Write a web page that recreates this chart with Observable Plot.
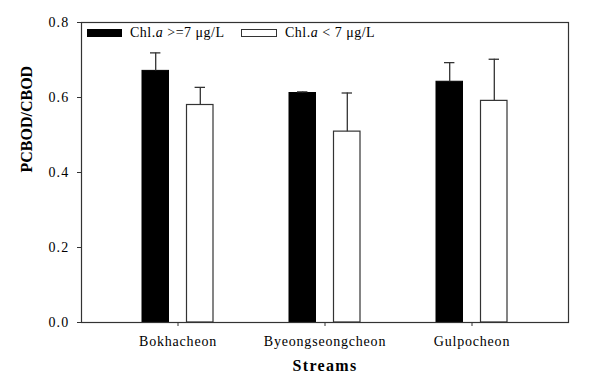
<!DOCTYPE html>
<html>
<head>
<meta charset="utf-8">
<script src="https://cdn.jsdelivr.net/npm/d3@7"></script>
<script src="https://cdn.jsdelivr.net/npm/@observablehq/plot@0.6"></script>
<style>
  html, body { margin: 0; padding: 0; background: #fff; }
  #wrap { position: relative; width: 599px; height: 384px; font-family: "Liberation Serif", "Times New Roman", serif; }
  #wrap svg { display: block; }
  g[aria-label="x-axis tick label"] text { letter-spacing: 0.8px; }
  g[aria-label="y-axis tick label"] text { letter-spacing: 1.2px; }
  .leg { position: absolute; font-size: 14px; line-height: 14px; color: #000; white-space: nowrap; letter-spacing: 0.5px; }
  .sw { position: absolute; box-sizing: border-box; height: 8px; }
</style>
</head>
<body>
<div id="wrap"></div>
<script>
const streams = ["Bokhacheon", "Byeongseongcheon", "Gulpocheon"];
const seriesNames = ["Chl.a >=7 \u03bcg/L", "Chl.a < 7 \u03bcg/L"];
const highMean = [0.671, 0.612, 0.642];
const highErr = [0.048, 0.003, 0.051];
const lowMean = [0.580, 0.509, 0.591];
const lowErr = [0.047, 0.103, 0.111];
const yTicks = [0, 0.2, 0.4, 0.6, 0.8];

const high = streams.map((s, i) => ({stream: s, value: highMean[i], err: highErr[i]}));
const low = streams.map((s, i) => ({stream: s, value: lowMean[i], err: lowErr[i]}));

const ink = "#333";
const chart = Plot.plot({
  width: 599,
  height: 384,
  marginLeft: 81,
  marginRight: 31,
  marginTop: 22,
  marginBottom: 62,
  style: {fontFamily: "'Liberation Serif', 'Times New Roman', serif", background: "white", color: "black"},
  x: {domain: streams, padding: 0, inset: 22},
  y: {domain: [0, 0.8]},
  marks: [
    Plot.barY(high, {x: "stream", y: "value", fill: "black", stroke: "black", insetLeft: 38, insetRight: 82.5}),
    Plot.barY(low, {x: "stream", y: "value", fill: "white", stroke: ink, strokeWidth: 1.2, insetLeft: 82.5, insetRight: 38}),
    Plot.ruleX(high, {x: "stream", y1: "value", y2: d => d.value + d.err, dx: -22.3, stroke: ink, strokeWidth: 1.3}),
    Plot.ruleX(low, {x: "stream", y1: "value", y2: d => d.value + d.err, dx: 22.3, stroke: ink, strokeWidth: 1.3}),
    Plot.tickY(high, {x: "stream", y: d => d.value + d.err, insetLeft: 46, insetRight: 90.6, stroke: ink, strokeWidth: 1.3}),
    Plot.tickY(low, {x: "stream", y: d => d.value + d.err, insetLeft: 90.6, insetRight: 46, stroke: ink, strokeWidth: 1.3}),
    Plot.axisY({ticks: yTicks, tickFormat: d3.format(".1f"), tickSize: 4, tickPadding: 8, fontSize: 14, label: null, stroke: ink, color: "black"}),
    Plot.axisX({tickSize: 4, tickPadding: 10, fontSize: 14, label: null, stroke: ink, color: "black"}),
    Plot.frame({stroke: ink, strokeWidth: 1.2}),
    Plot.text(["PCBOD/CBOD"], {frameAnchor: "left", dx: -55, rotate: -90, fontSize: 16, fontWeight: "bold", fill: "black"}),
    Plot.text(["Streams"], {frameAnchor: "bottom", dy: 48, fontSize: 16, fontWeight: "bold", fill: "black"})
  ]
});
const wrap = document.getElementById("wrap");
wrap.appendChild(chart);
chart.querySelectorAll("text").forEach(t => {
  if (t.textContent === "Streams") t.style.letterSpacing = "1.3px";
});

// legend overlay
const legendItems = [
  {fill: "black", border: "black", sx: 87, tx: 130, w: 35},
  {fill: "white", border: ink, sx: 241, tx: 285, w: 36}
];
legendItems.forEach((it, i) => {
  const sw = document.createElement("div");
  sw.className = "sw";
  Object.assign(sw.style, {left: it.sx + "px", top: "29px", width: it.w + "px", background: it.fill, border: "1px solid " + it.border});
  wrap.appendChild(sw);
  const lab = document.createElement("div");
  lab.className = "leg";
  Object.assign(lab.style, {left: it.tx + "px", top: "26px"});
  const name = seriesNames[i];
  const rest = name.slice(5);
  lab.innerHTML = "Chl.<i>a</i>" + rest.replace("<", "&lt;").replace(">", "&gt;");
  wrap.appendChild(lab);
});
</script>
</body>
</html>
